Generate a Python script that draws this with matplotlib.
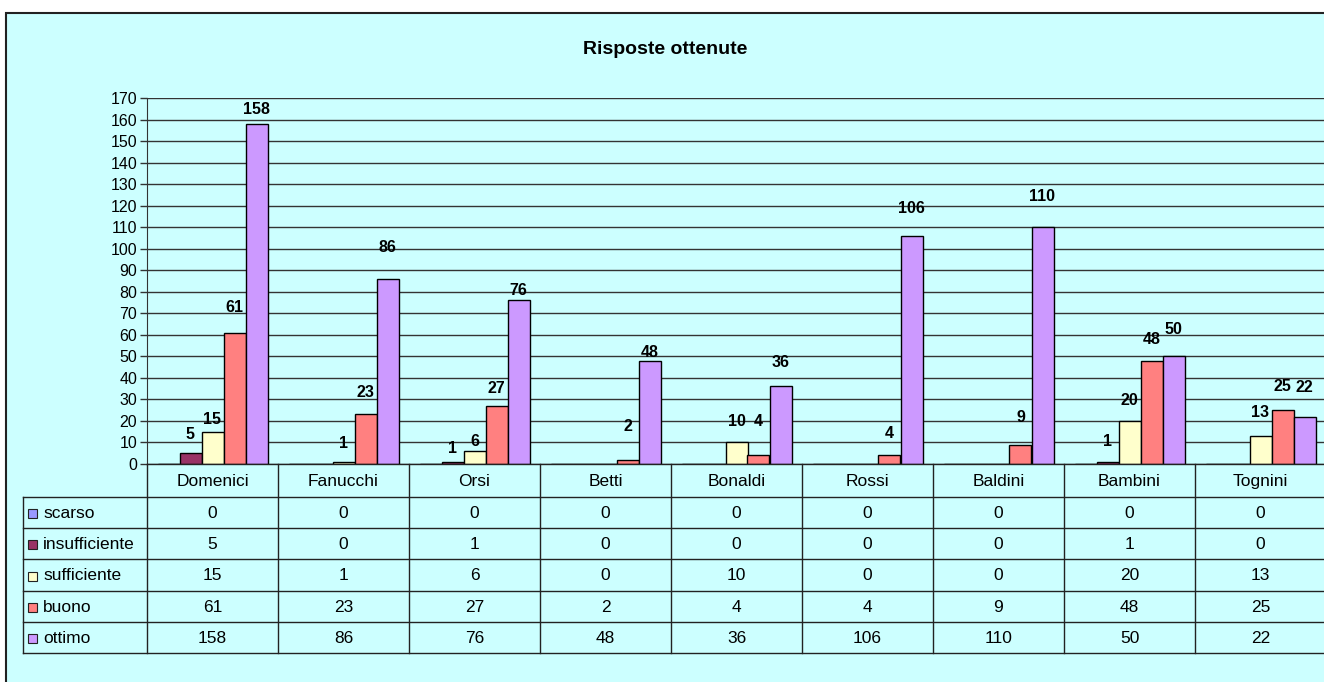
import numpy as np
import matplotlib
matplotlib.use("Agg")
import matplotlib.pyplot as plt
from matplotlib.patches import Rectangle

plt.rcParams['font.family'] = ['Liberation Sans', 'DejaVu Sans']

# data
categories = ["Domenici", "Fanucchi", "Orsi", "Betti", "Bonaldi",
              "Rossi", "Baldini", "Bambini", "Tognini"]
series_names = ["scarso", "insufficiente", "sufficiente", "buono", "ottimo"]
scarso = [0, 0, 0, 0, 0, 0, 0, 0, 0]
insufficiente = [5, 0, 1, 0, 0, 0, 0, 1, 0]
sufficiente = [15, 1, 6, 0, 10, 0, 0, 20, 13]
buono = [61, 23, 27, 2, 4, 4, 9, 48, 25]
ottimo = [158, 86, 76, 48, 36, 106, 110, 50, 22]
values = [scarso, insufficiente, sufficiente, buono, ottimo]

colors = ["#9999FF", "#993366", "#FFFFCC", "#FF8080", "#CC99FF"]
bg = "#CCFFFF"

# label vertical offsets in pixels (Excel put them a bit irregularly)
label_dy = [
    [0] * 9,
    [19, 0, 13, 0, 0, 0, 0, 20, 0],
    [12, 18, 10, 0, 21, 0, 0, 20, 24],
    [25, 22, 17, 33, 34, 22, 27, 21, 24],
    [14, 31, 10, 8, 24, 27, 31, 27, 29],
]

W, H = 1324, 682
fig = plt.figure(figsize=(W / 100, H / 100), dpi=100)
fig.patch.set_facecolor("white")

# background frame (overlay axes in pixel coords)
bgax = fig.add_axes([0, 0, 1, 1], zorder=0)
bgax.set_xlim(0, W)
bgax.set_ylim(H, 0)
bgax.axis("off")
bgax.add_patch(Rectangle((6, 13), W + 20, H + 20, facecolor=bg,
                         edgecolor="#222222", lw=1.5))

# plot area
x0, x_cat, y_top, y_bot = 147, 131, 98, 464
ax = fig.add_axes([x0 / W, 1 - y_bot / H, 9 * x_cat / W, (y_bot - y_top) / H], zorder=2)
ax.set_facecolor("none")
n = len(categories)
x = np.arange(n)
bw = 22 / x_cat
for j, (vals, c) in enumerate(zip(values, colors)):
    pos = x + (j - 2) * bw
    ax.bar(pos, vals, width=bw, color=c, edgecolor="black", linewidth=1, zorder=3)
    if j == 0:
        continue
    for i, v in enumerate(vals):
        if v == 0:
            continue
        ax.annotate(str(v), (pos[i], v), xytext=(0, label_dy[j][i]),
                    textcoords="offset pixels", ha="center", va="center",
                    fontsize=11.5, fontweight="bold", zorder=4)

ax.set_xlim(-0.5, n - 0.5)
ax.set_ylim(0, 170)
ax.set_yticks(np.arange(0, 171, 10))
ax.yaxis.grid(True, color="#333333", linewidth=1)
ax.set_axisbelow(True)
ax.set_xticks([])
ax.tick_params(axis="y", length=5, width=1, color="#333333", labelsize=11.5, pad=2)
for s in ["top", "right", "bottom"]:
    ax.spines[s].set_visible(False)
ax.spines["left"].set_color("#333333")

fig.text(665 / W, 1 - 50 / H, "Risposte ottenute", ha="center", va="center",
         fontsize=14, fontweight="bold")

# data table under the chart
tab = fig.add_axes([0, 0, 1, 1], zorder=3)
tab.set_xlim(0, W)
tab.set_ylim(H, 0)
tab.axis("off")
tab.patch.set_alpha(0)
row_h = 31.2
hdr_top, hdr_bot = y_bot, 497
tab_bot = hdr_bot + 5 * row_h
lab_left = 23
lc = "#222222"
fs = 12.5
for r in range(6):
    yy = hdr_bot + r * row_h
    tab.plot([lab_left, W + 5], [yy, yy], color=lc, lw=1)
tab.plot([x0, W + 5], [hdr_top, hdr_top], color=lc, lw=1)
tab.plot([lab_left, lab_left], [hdr_bot, tab_bot], color=lc, lw=1)
for i in range(n + 1):
    xx = x0 + i * x_cat
    tab.plot([xx, xx], [hdr_top, tab_bot], color=lc, lw=1)
for i, cat in enumerate(categories):
    tab.text(x0 + (i + 0.5) * x_cat, (hdr_top + hdr_bot) / 2 + 1, cat,
             ha="center", va="center", fontsize=fs)
for r, (name, vals, c) in enumerate(zip(series_names, values, colors)):
    yc = hdr_bot + (r + 0.5) * row_h + 1
    tab.add_patch(Rectangle((28, yc - 4.5), 9, 9, facecolor=c,
                            edgecolor="#222222", lw=0.8))
    tab.text(43, yc, name, ha="left", va="center", fontsize=fs)
    for i, v in enumerate(vals):
        tab.text(x0 + (i + 0.5) * x_cat, yc, str(v), ha="center",
                 va="center", fontsize=fs)

fig.savefig("out.png", dpi=100)
